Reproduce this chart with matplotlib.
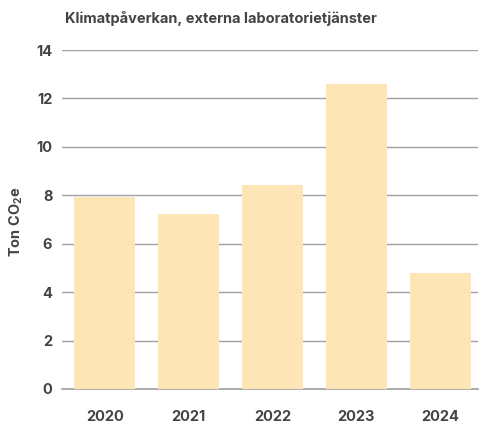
import matplotlib
matplotlib.use("Agg")
import matplotlib.pyplot as plt

years = ["2020", "2021", "2022", "2023", "2024"]
values = [7.93, 7.23, 8.43, 12.6, 4.79]
yticks = [0, 2, 4, 6, 8, 10, 12, 14]

plt.rcParams['font.family'] = ['Inter', 'DejaVu Sans']
plt.rcParams['mathtext.fontset'] = 'custom'
plt.rcParams['mathtext.rm'] = 'Inter:bold'
plt.rcParams['mathtext.bf'] = 'Inter:bold'

fig = plt.figure(figsize=(4.79, 4.26), dpi=100)
ax = fig.add_axes([62/479, 1-389/426, (478-62)/479, (389-50)/426])

x = list(range(len(years)))
ax.bar(x, values, width=0.73, color="#FDE5B6", zorder=3)
ax.set_ylim(0, 14)
ax.set_xlim(-0.51, 4.45)
ax.set_yticks(yticks)
ax.set_xticks(x)
ax.set_xticklabels(years)
ax.grid(axis='y', color='#a0a0a0', linewidth=1, zorder=0)
ax.axhline(0, color='#a0a0a0', linewidth=1.2, zorder=1, clip_on=False)
ax.set_axisbelow(True)
for s in ax.spines.values():
    s.set_visible(False)
ax.tick_params(axis='y', length=0, pad=7, labelsize=10.5, labelcolor='#444444')
ax.tick_params(axis='x', length=0, pad=15, labelsize=10.5, labelcolor='#444444')
for lab in ax.get_xticklabels() + ax.get_yticklabels():
    lab.set_fontweight('bold')
ax.set_ylabel("Ton CO$_2$e", fontsize=10.5, fontweight='bold', color='#444444')
ax.yaxis.set_label_coords((25-62)/416, (389-222)/339)

fig.text(65/479, 1-18/426, "Klimatpåverkan, externa laboratorietjänster",
         fontsize=10.5, fontweight='bold', color='#444444', va='center', ha='left')

fig.savefig("out.png", dpi=100)
